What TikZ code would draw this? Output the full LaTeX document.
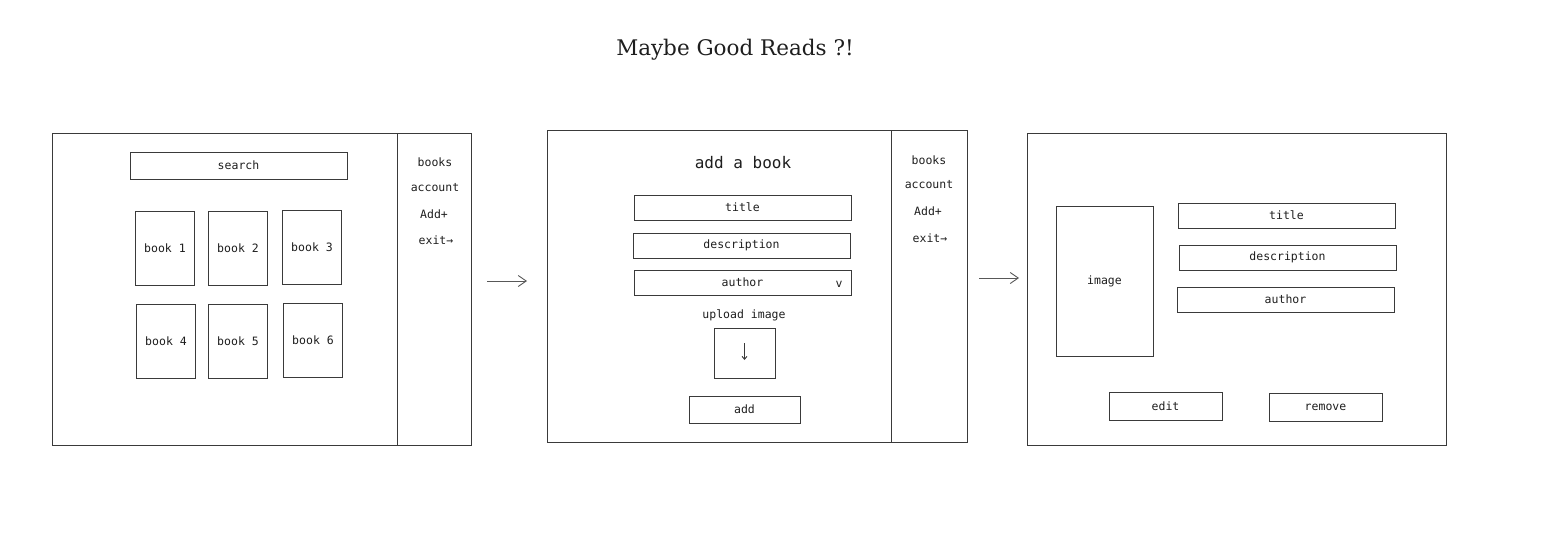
\documentclass[tikz,border=0pt]{standalone}
\usepackage{fontspec}
\setmainfont{DejaVu Serif}
\newfontfamily\monofont{DejaVu Sans Mono}
\usetikzlibrary{arrows.meta}
\definecolor{inkc}{HTML}{3A3A3A}
\definecolor{textc}{HTML}{1E1E1E}
\begin{document}
\begin{tikzpicture} [x = 1pt, y = -1pt,
    box/.style = {draw = inkc, line width = 0.9pt, inner sep = 0pt, text = textc,
                  font = \monofont\fontsize{11.5}{13}\selectfont},
    menu/.style = {inner sep = 0pt, text = textc, font = \monofont\fontsize{11.5}{13}\selectfont},
    flow/.style = {draw = inkc!85, line width = 0.9pt, -{Straight Barb[length = 8pt, width = 11pt]}}]
  \useasboundingbox (0,0) rectangle (1552,536);
  \node[text = textc, font = \fontsize{21.5}{24}\selectfont] (heading) at (735,50) {Maybe Good Reads ?!};
  % books page
  \node[box, minimum width = 345, minimum height = 312] (home) at (224.5,289) {};
  \node[box, minimum width = 74, minimum height = 312] (homemenu) at (434,289) {};
  \node[box, minimum width = 217, minimum height = 27] (search) at (238.5,165.5) {search};
  \node[box, minimum width = 59, minimum height = 74] (book1) at (165,248) {book 1};
  \node[box, minimum width = 59, minimum height = 74] (book2) at (238,248) {book 2};
  \node[box, minimum width = 59, minimum height = 74] (book3) at (312,247) {book 3};
  \node[box, minimum width = 59, minimum height = 74] (book4) at (166,341) {book 4};
  \node[box, minimum width = 59, minimum height = 74] (book5) at (238,341) {book 5};
  \node[box, minimum width = 59, minimum height = 74] (book6) at (313,340) {book 6};
  \node[menu] (books1) at (435,162) {books};
  \node[menu] (account1) at (435,188) {account};
  \node[menu] (addplus1) at (434,214) {Add+};
  \node[menu] (exit1) at (436,240) {exit→};
  % add page
  \node[box, minimum width = 344, minimum height = 312] (addpage) at (719,286) {};
  \node[box, minimum width = 76, minimum height = 312] (addmenu) at (929,286) {};
  \node[menu, font = \monofont\fontsize{16}{19}\selectfont] (addhead) at (743,163) {add a book};
  \node[box, minimum width = 217, minimum height = 25] (title2) at (742.5,207.5) {title};
  \node[box, minimum width = 217, minimum height = 25] (desc2) at (741.5,245.5) {description};
  \node[box, minimum width = 217, minimum height = 25] (author2) at (742.5,282.5) {author};
  \node[menu] (pick) at (839,284) {v};
  \node[menu] (upload) at (744,315) {upload image};
  \node[box, minimum width = 61, minimum height = 50] (drop) at (744.5,353) {};
  \node[box, minimum width = 111, minimum height = 27] (add) at (744.5,409.5) {add};
  \draw[draw = inkc, line width = 0.9pt, -{Straight Barb[length = 3pt, width = 5pt]}]
    ([yshift = 10]drop.center) -- ([yshift = -7]drop.center);
  \node[menu] (books2) at (929,160) {books};
  \node[menu] (account2) at (929,185) {account};
  \node[menu] (addplus2) at (928,211) {Add+};
  \node[menu] (exit2) at (930,238) {exit→};
  % book page
  \node[box, minimum width = 419, minimum height = 312] (bookpage) at (1236.5,289) {};
  \node[box, minimum width = 97, minimum height = 150] (image) at (1104.5,281) {image};
  \node[box, minimum width = 217, minimum height = 25] (title3) at (1286.5,215.5) {title};
  \node[box, minimum width = 217, minimum height = 25] (desc3) at (1287.5,257.5) {description};
  \node[box, minimum width = 217, minimum height = 25] (author3) at (1285.5,299.5) {author};
  \node[box, minimum width = 113, minimum height = 28] (edit) at (1165.5,406) {edit};
  \node[box, minimum width = 113, minimum height = 28] (remove) at (1325.5,407) {remove};
  % flow
  \coordinate (go1) at (487,281);
  \coordinate (to1) at (527,281);
  \coordinate (go2) at (979,278);
  \coordinate (to2) at (1019,278);
  \draw[flow] (go1) -- (to1);
  \draw[flow] (go2) -- (to2);
\end{tikzpicture}
\end{document}
